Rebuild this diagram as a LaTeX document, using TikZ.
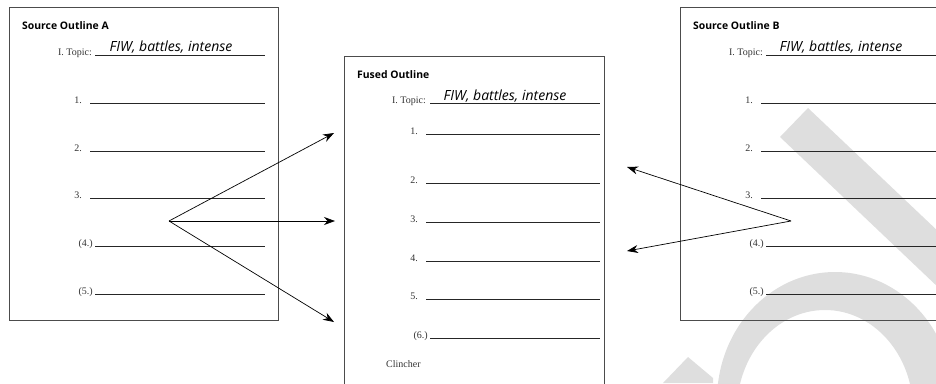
\documentclass[tikz,border=0pt]{standalone}
\usepackage{fontspec}
\setmainfont{Liberation Serif}
\setsansfont{Open Sans}
\usepackage{xcolor}
\usetikzlibrary{arrows.meta,positioning}

\begin{document}
\begin{tikzpicture}[x=1pt,y=-1pt,
  outline/.style={draw=black!70,line width=1pt},
  rule/.style={draw=black!85,line width=0.8pt},
  heading/.style={font=\sffamily\bfseries\fontsize{10.4}{12}\selectfont,anchor=base west,inner sep=0pt},
  hand/.style={font=\sffamily\itshape\fontsize{14}{16}\selectfont,anchor=base,inner sep=0pt},
  num/.style={font=\fontsize{10}{12}\selectfont,text=black!80,anchor=base east,inner sep=0pt},
  wmark/.style={fill=black!13},
  link/.style={-{Stealth[length=11pt,width=8pt]},line width=0.7pt}]
  \useasboundingbox (0,0) rectangle (936,383);
  \clip (0,0) rectangle (936,383);
  % Watermark
  \fill[wmark] (780,137) -- (808,108) -- (960,252) -- (960,308) -- cycle;
  \fill[wmark,even odd rule] (835,400) ellipse (118 and 128) (825,410) ellipse (88 and 100);
  \fill[wmark] (663,383) -- (688,357) -- (713,378) -- (713,383) -- cycle;
  % Source outline A
  \draw[outline] (9,7) rectangle (278,320);
  \node[heading] (A-title) at (22,29) {Source Outline A};
  \node[num] (A-topic) at (92,55) {I. Topic:};
  \draw[rule] (95,55) -- (265,55);
  \node[hand] (A-fiw) at (171,51) {FIW, battles, intense};
  \foreach \y/\lbl/\xl/\xs [count=\i] in {103/1./82/90,151/2./82/90,198/3./82/90,246/(4.)/93/95,294/(5.)/93/95} {
    \node[num] (A-\i) at (\xl,\y) {\lbl};
    \draw[rule] (\xs,\y) -- (265,\y);
  }
  % Fused outline
  \draw[outline] (344,56) rectangle (604,400);
  \node[heading] (F-title) at (357,78) {Fused Outline};
  \node[num] (F-topic) at (426,103) {I. Topic:};
  \draw[rule] (430,103) -- (600,103);
  \node[hand] (F-fiw) at (505,100) {FIW, battles, intense};
  \foreach \y/\lbl/\xl/\xs [count=\i] in {134/1./418/426,183/2./418/426,222/3./418/426,261/4./418/426,299/5./418/426,338/(6.)/428/430} {
    \node[num] (F-\i) at (\xl,\y) {\lbl};
    \draw[rule] (\xs,\y) -- (600,\y);
  }
  \node[num,anchor=base west] (F-clincher) at (386,367) {Clincher};
  % Source outline B
  \draw[outline] (680,7) rectangle (960,320);
  \node[heading] (B-title) at (693,29) {Source Outline B};
  \node[num] (B-topic) at (763,55) {I. Topic:};
  \draw[rule] (766,55) -- (940,55);
  \node[hand] (B-fiw) at (841,51) {FIW, battles, intense};
  \foreach \y/\lbl/\xl/\xs [count=\i] in {103/1./753/761,151/2./753/761,198/3./753/761,246/(4.)/764/766,294/(5.)/764/766} {
    \node[num] (B-\i) at (\xl,\y) {\lbl};
    \draw[rule] (\xs,\y) -- (940,\y);
  }
  % Arrows
  \coordinate (forkA) at (169,221);
  \coordinate (toF1) at (334,133);
  \coordinate (toF3) at (335,221);
  \coordinate (toF6) at (334,322);
  \draw[link] (forkA) -- (toF1);
  \draw[link] (forkA) -- (toF3);
  \draw[link] (forkA) -- (toF6);
  \coordinate (forkB) at (791,221);
  \coordinate (toF2) at (627,167);
  \coordinate (toF4) at (627,251);
  \draw[link] (forkB) -- (toF2);
  \draw[link] (forkB) -- (toF4);
\end{tikzpicture}
\end{document}
